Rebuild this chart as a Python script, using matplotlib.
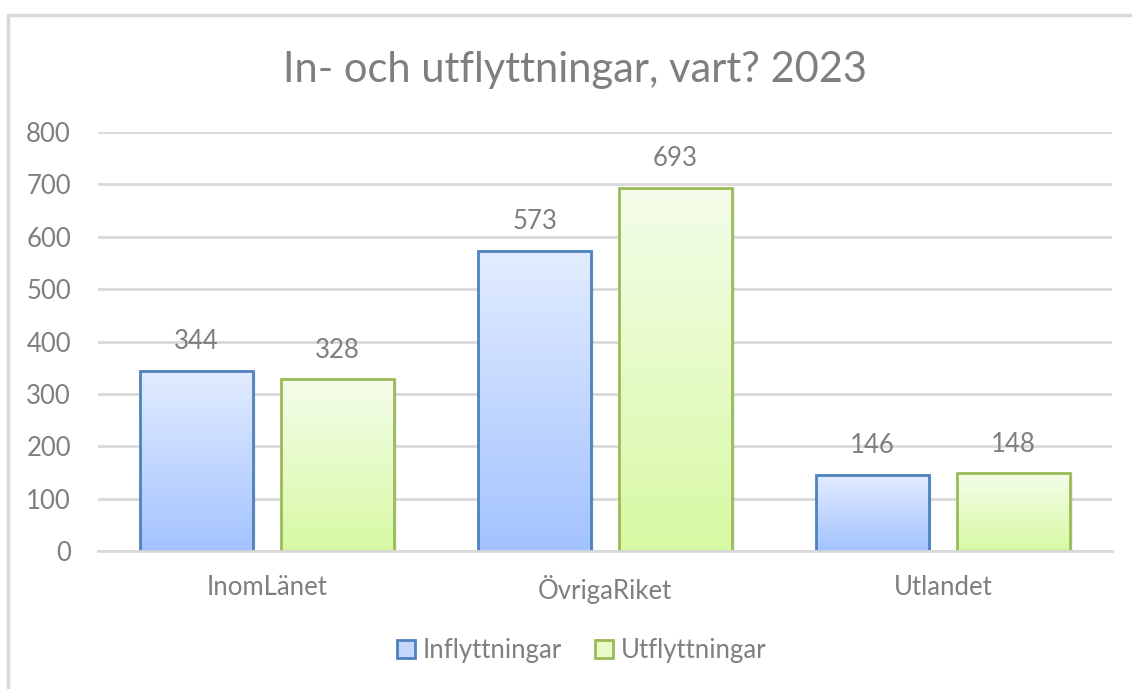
import numpy as np
import matplotlib.pyplot as plt
from matplotlib.colors import LinearSegmentedColormap
from matplotlib.patches import Patch
from matplotlib.lines import Line2D

# data
categories = ["InomLänet", "ÖvrigaRiket", "Utlandet"]
series_names = ["Inflyttningar", "Utflyttningar"]
inflytt = [344, 573, 146]
utflytt = [328, 693, 148]
yticks = [0, 100, 200, 300, 400, 500, 600, 700, 800]

# styles
TXT = "#7f7f7f"
GRID = "#d9d9d9"
edge_cols = ["#4f81bd", "#9bbb59"]
grad_cols = [("#a3c3ff", "#e3ecff"), ("#d7f9a3", "#f4fdea")]  # (bottom, top)
face_mid = ["#c4d7ff", "#e6fbc8"]

plt.rcParams['font.family'] = ['Lato', 'DejaVu Sans']

fig = plt.figure(figsize=(11.32, 6.89), dpi=100)
ax = fig.add_axes([0.0866, 0.2003, 0.8957, 0.6081])

# chart border (left + top)
fig.add_artist(Line2D([0.0071, 0.0071, 1.0], [0.0, 0.9782, 0.9782],
                      transform=fig.transFigure, color=GRID, lw=2.5))

x = np.arange(len(categories))
width = 0.335
offset = 0.208

ax.set_xlim(-0.5, len(categories) - 0.5)
ax.set_ylim(0, 800)

for i, vals in enumerate([inflytt, utflytt]):
    pos = x + (offset if i else -offset)
    bars = ax.bar(pos, vals, width, facecolor="none", edgecolor=edge_cols[i],
                  linewidth=2, zorder=4)
    cmap = LinearSegmentedColormap.from_list("g%d" % i, list(grad_cols[i]))
    grad = np.linspace(0, 1, 256).reshape(-1, 1)
    for b, v in zip(bars, vals):
        x0 = b.get_x()
        # soft shadow to the right
        ax.bar(x0 + width / 2 + 0.008, v, width, color="#000000", alpha=0.06,
               linewidth=0, zorder=2)
        ax.imshow(grad, cmap=cmap, origin="lower", aspect="auto",
                  extent=[x0, x0 + width, 0, v], zorder=3)
        ax.annotate(str(v), (b.get_x() + width / 2, v), xytext=(0, 12),
                    textcoords="offset points", ha="center", va="bottom",
                    fontsize=18.5, color=TXT)

ax.set_xlim(-0.5, len(categories) - 0.5)
ax.set_ylim(0, 800)

ax.set_yticks(yticks)
ax.set_xticks(x)
ax.set_xticklabels(categories)
ax.tick_params(axis="both", length=0, labelsize=18.5, labelcolor=TXT)
ax.tick_params(axis="x", pad=17)
ax.tick_params(axis="y", pad=19.5)
ax.yaxis.grid(True, color=GRID, linewidth=2)
ax.set_axisbelow(True)
for s in ["top", "right", "left"]:
    ax.spines[s].set_visible(False)
ax.spines["bottom"].set_color(GRID)
ax.spines["bottom"].set_linewidth(2)
ax.spines["bottom"].set_zorder(5)

fig.text(0.508, 0.898, "In- och utflyttningar, vart? 2023", ha="center",
         va="center", fontsize=30, color=TXT)

handles = [Patch(facecolor=face_mid[i], edgecolor=edge_cols[i], linewidth=2)
           for i in range(2)]
fig.legend(handles, series_names, loc="center", bbox_to_anchor=(0.514, 0.0566),
           ncol=2, frameon=False, fontsize=18.5, labelcolor=TXT,
           handlelength=0.7, handleheight=0.7, handletextpad=0.3,
           columnspacing=1.3)

fig.savefig("out.png", dpi=100)
